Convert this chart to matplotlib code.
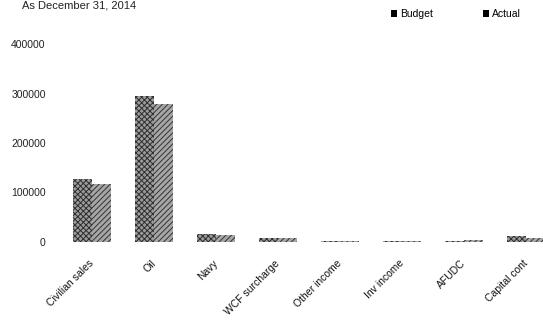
import matplotlib
matplotlib.use("Agg")
import matplotlib.pyplot as plt
from matplotlib.patches import Patch
import numpy as np

plt.rcParams['font.family'] = ['Liberation Sans', 'DejaVu Sans']
plt.rcParams['hatch.linewidth'] = 0.7

categories = ["Civilian sales", "Oil", "Navy", "WCF surcharge", "Other income",
              "Inv income", "AFUDC", "Capital cont"]
budget = [127000, 294000, 17000, 9000, 3000, 2500, 3000, 12000]
actual = [117000, 278000, 15000, 9000, 2500, 2000, 4000, 9000]
yticks = [0, 100000, 200000, 300000, 400000]

W, H = 543, 325
fig = plt.figure(figsize=(W / 100, H / 100), dpi=100)
ax = fig.add_axes([61 / W, 1 - 242 / H, 482 / W, 198 / H])

x = np.arange(len(categories))
bw = 0.31
ax.bar(x - bw / 2, budget, width=bw, facecolor="#9c9c9c", edgecolor="#2e2e2e",
       hatch="xxxxxx", linewidth=0)
ax.bar(x + bw / 2, actual, width=bw, facecolor="#a6a6a6", edgecolor="#333333",
       hatch="//////", linewidth=0)

ax.set_xlim(-0.5, 7.27)
ax.set_ylim(0, 400000)
ax.set_yticks(yticks)
ax.set_yticklabels([str(v) for v in yticks], fontsize=7.5, color="#222222")
ax.set_xticks(x)
ax.set_xticklabels(categories, rotation=45, ha="right", va="center",
                   rotation_mode="anchor", fontsize=7.5, color="#111111")
ax.tick_params(axis="both", length=0)
ax.tick_params(axis="x", pad=14)
ax.tick_params(axis="y", pad=11)
for s in ax.spines.values():
    s.set_visible(False)

fig.text(22 / W, 1 - 1 / H, "As December 31, 2014", fontsize=8, ha="left",
         va="top", color="#222222")

handles = [Patch(facecolor="black", label="Budget"),
           Patch(facecolor="black", label="Actual")]
fig.legend(handles=handles, loc="center", bbox_to_anchor=(456 / W, 1 - 14 / H),
           ncol=2, frameon=False, fontsize=7.5, handlelength=0.6,
           handleheight=0.6, handletextpad=0.3, columnspacing=4.8)

fig.savefig("out.png", dpi=100)
